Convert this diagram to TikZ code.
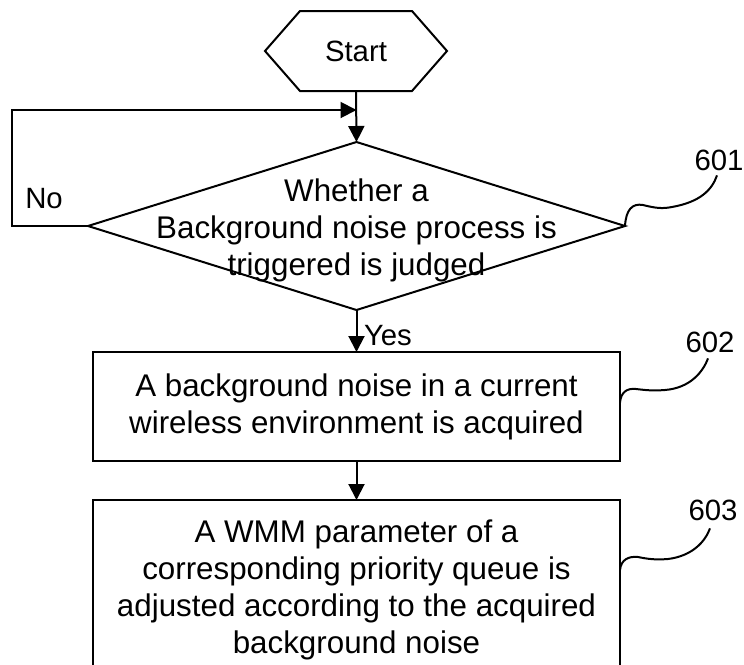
\documentclass[tikz,border=0pt]{standalone}
\usepackage{fontspec}
\setmainfont{Liberation Sans}
\usetikzlibrary{arrows.meta,shapes.geometric,calc}
\begin{document}
\begin{tikzpicture}[x=0.75pt,y=-0.75pt, line width=1.5pt,
  every node/.style={inner sep=0pt, outer sep=0pt},
  arr/.style={-{Triangle[length=12pt,width=12pt]}},
  txt/.style={font=\fontsize{23.5}{27.75}\selectfont, align=center},
  lbl/.style={font=\fontsize{22}{26}\selectfont},
  boxnode/.style={draw, minimum width=395.25pt}
]
\useasboundingbox (0,0) rectangle (744,665);
\clip (0,0) rectangle (744,665);

% Start hexagon
\node[lbl, minimum width=136.5pt, minimum height=60pt] (start) at (356,51) {Start};
\draw ($(start.north west)+(35,0)$) -- ($(start.north east)+(-35,0)$) -- (start.east)
  -- ($(start.south east)+(-35,0)$) -- ($(start.south west)+(35,0)$) -- (start.west) -- cycle;

% Decision diamond
\node[diamond, draw, minimum width=402.75pt, minimum height=126pt] (dec) at (356.5,226) {};
\node[txt] (dect) at (356.5,230) {Whether a\\Background noise process is\\triggered is judged};

% Boxes
\node[boxnode, minimum height=81.75pt, txt] (b602) at (356.5,406.5)
  {A background noise in a current\\wireless environment is acquired};
\node[boxnode, minimum height=135pt, txt] (b603) at (356.5,590)
  {A WMM parameter of a\\corresponding priority queue is\\adjusted according to the acquired\\background noise};

% Connectors
\coordinate (j) at (356.5,110);
\draw[arr] (start.south) -- (dec.north);
\draw[arr] (dec.west) -- ++(-76,0) |- (j);
\draw[arr] (dec.south) -- (b602.north);
\draw[arr] (b602.south) -- (b603.north);

\node[lbl] (no) at (44,199) {No};
\node[lbl, anchor=west] (yes) at (364,336) {Yes};

% Reference labels
\node[lbl] (l601) at (719,160) {601};
\node[lbl] (l602) at (710,342) {602};
\node[lbl] (l603) at (713,510) {603};

\draw (dec.east) .. controls (626,210) and (632,203) .. (643,205)
  .. controls (655,208) and (662,209) .. (672,207)
  .. controls (700,202) and (712,190) .. ($(l601.south)+(-2,5)$);
\draw ($(b602.east)+(0,-4)$) .. controls (621,392) and (627,388) .. (636,389)
  .. controls (645,390) and (652,391) .. (665,390)
  .. controls (690,388) and (703,372) .. ($(l602.south)+(-2,6)$);
\draw ($(b603.east)+(0,-20)$) .. controls (621,560) and (628,556) .. (638,557)
  .. controls (648,559) and (655,560) .. (668,559)
  .. controls (692,556) and (705,542) .. ($(l603.south)+(-3,8)$);
\end{tikzpicture}
\end{document}
